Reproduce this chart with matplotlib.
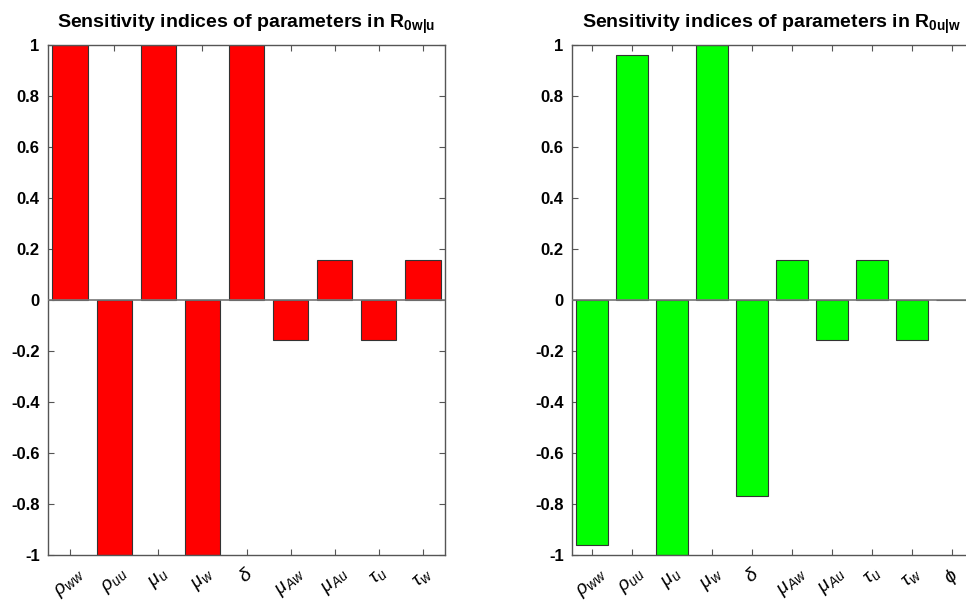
import matplotlib
matplotlib.use("Agg")
import matplotlib.pyplot as plt
import numpy as np

# Parameter labels (TeX-style subscripts)
params_w = [r"$\rho_{ww}$", r"$\rho_{uu}$", r"$\mu_{u}$", r"$\mu_{w}$", r"$\delta$",
            r"$\mu_{Aw}$", r"$\mu_{Au}$", r"$\tau_{u}$", r"$\tau_{w}$"]
params_u = params_w + [r"$\phi$"]

# Sensitivity indices
sens_w = [1.0, -1.0, 1.0, -1.0, 1.0, -0.155, 0.155, -0.155, 0.155]
sens_u = [-0.96, 0.96, -1.0, 1.0, -0.77, 0.155, -0.155, 0.155, -0.155, 0.0]

titles = [r"Sensitivity indices of parameters in R$_{\mathbf{0w|u}}$",
          r"Sensitivity indices of parameters in R$_{\mathbf{0u|w}}$"]
colors = ["#ff0000", "#00ff00"]

plt.rcParams["font.family"] = ["Liberation Sans", "DejaVu Sans"]
plt.rcParams["mathtext.fontset"] = "custom"
plt.rcParams["mathtext.rm"] = "Liberation Sans"
plt.rcParams["mathtext.it"] = "Liberation Sans:italic"
plt.rcParams["mathtext.bf"] = "Liberation Sans:bold"

fig = plt.figure(figsize=(9.66, 6.04), dpi=100)
W, H = 966, 604
ax1 = fig.add_axes([48 / W, 1 - 555 / H, 397 / W, 510 / H])
ax2 = fig.add_axes([572 / W, 1 - 555 / H, 400 / W, 510 / H])

spine_col = "#555555"
for ax, labels, vals, col, title in [(ax1, params_w, sens_w, colors[0], titles[0]),
                                      (ax2, params_u, sens_u, colors[1], titles[1])]:
    x = np.arange(1, len(vals) + 1)
    ax.bar(x, vals, width=0.8, color=col, edgecolor="#333333", linewidth=0.8, zorder=2)
    ax.axhline(0, color="#777777", linewidth=1.2, zorder=3)
    ax.set_xlim(0.5, len(vals) + 0.5)
    ax.set_ylim(-1, 1)
    ax.set_yticks(np.arange(-1, 1.01, 0.2))
    ax.set_yticklabels(["-1", "-0.8", "-0.6", "-0.4", "-0.2", "0", "0.2", "0.4", "0.6", "0.8", "1"],
                       fontsize=12, fontweight="bold")
    ax.set_xticks(x)
    ax.set_xticklabels(labels, rotation=42, fontsize=14, ha="center", va="top")
    ax.tick_params(axis="both", direction="in", length=4, width=0.8, color=spine_col,
                   top=True, right=True, pad=6)
    ax.tick_params(axis="x", pad=7)
    for s in ax.spines.values():
        s.set_color(spine_col)
        s.set_linewidth(1.0)
    ax.set_title(title, fontsize=14, fontweight="bold", pad=12)

fig.savefig("out.png", dpi=100)
